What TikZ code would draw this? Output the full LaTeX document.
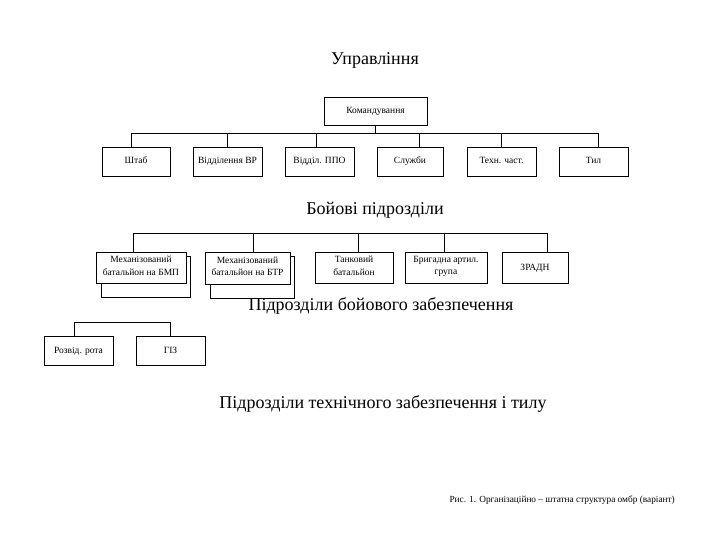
\documentclass[tikz,border=0pt]{standalone}
\usepackage{fontspec}
\setmainfont{Liberation Serif}
\begin{document}
\begin{tikzpicture}[x=1pt,y=-1pt,
  box/.style={draw,line width=0.8pt,fill=white,inner sep=1pt,align=center,
    font=\fontsize{9.5}{12.5}\selectfont,
    execute at begin node=\strut, execute at end node=\strut},
  ttl/.style={font=\fontsize{18}{20}\selectfont},
  conn/.style={line width=0.8pt}]
\useasboundingbox (0,0) rectangle (720,540);
% titles
\node[ttl] (t1) at (375,60) {Управління};
\node[ttl] (t2) at (375,210) {Бойові підрозділи};
\node[ttl] (t3) at (381,306) {Підрозділи бойового забезпечення};
\node[ttl] (t4) at (383,404) {Підрозділи технічного забезпечення і тилу};
\node[anchor=west,font=\fontsize{9.3}{11}\selectfont] (cap) at (446,500)
  {Рис. 1. Організаційно – штатна структура омбр (варіант)};
% management
\node[box,minimum width=103,minimum height=28] (cmd) at (375.5,111) {Командування};
\node[box,minimum width=68,minimum height=29] (a1) at (136,161.5) {Штаб};
\node[box,minimum width=69,minimum height=29] (a2) at (227.5,161.5) {Відділення ВР};
\node[box,minimum width=69,minimum height=29] (a3) at (319.5,161.5) {Відділ. ППО};
\node[box,minimum width=66,minimum height=29] (a4) at (410,161.5) {Служби};
\node[box,minimum width=69,minimum height=29] (a5) at (501.5,161.5) {Техн. част.};
\node[box,minimum width=69,minimum height=29] (a6) at (593.5,161.5) {Тил};
\coordinate (busA) at (0,133);
\draw[conn] (cmd.south) -- (cmd.south |- busA);
\draw[conn] ([xshift=-5]a1.north) -- ([xshift=-5]a1.north |- busA) -- ([xshift=4.5]a6.north |- busA) -- ([xshift=4.5]a6.north);
\draw[conn] (a2.north) -- (a2.north |- busA);
\draw[conn] ([xshift=-3.5]a3.north) -- ([xshift=-3.5]a3.north |- busA);
\draw[conn] ([xshift=9]a4.north) -- ([xshift=9]a4.north |- busA);
\draw[conn] (a5.north) -- (a5.north |- busA);
% combat units
\node[box,minimum width=89,minimum height=41] (b1s) at (145.5,276.5) {};
\node[box,minimum width=84,minimum height=42] (b2s) at (252,277) {};
\node[box,minimum width=90,minimum height=31] (b1) at (141,267.5) {Механізований\\батальйон на БМП};
\node[box,minimum width=85,minimum height=32,line width=1pt] (b2) at (247.5,268) {Механізований\\батальйон на БТР};
\node[box,minimum width=78,minimum height=31] (b3) at (354,267.5) {Танковий\\батальйон};
\node[box,minimum width=82,minimum height=31] (b4) at (446,267.5) {Бригадна артил.\\група};
\node[box,minimum width=66,minimum height=31] (b5) at (535,267.5) {ЗРАДН};
\coordinate (busB) at (0,233);
\draw[conn] ([xshift=-8]b1.north) -- ([xshift=-8]b1.north |- busB) -- ([xshift=12]b5.north |- busB) -- ([xshift=12]b5.north);
\draw[conn] ([xshift=5.5]b2.north) -- ([xshift=5.5]b2.north |- busB);
\draw[conn] ([xshift=4]b3.north) -- ([xshift=4]b3.north |- busB);
\draw[conn] ([xshift=-2]b4.north) -- ([xshift=-2]b4.north |- busB);
% support units
\node[box,minimum width=69,minimum height=29] (c1) at (78.5,350.5) {Розвід. рота};
\node[box,minimum width=69,minimum height=29] (c2) at (170.5,350.5) {ГІЗ};
\draw[conn] ([xshift=-4.5]c1.north) -- ++(0,-13) -| (c2.north);
\end{tikzpicture}
\end{document}
